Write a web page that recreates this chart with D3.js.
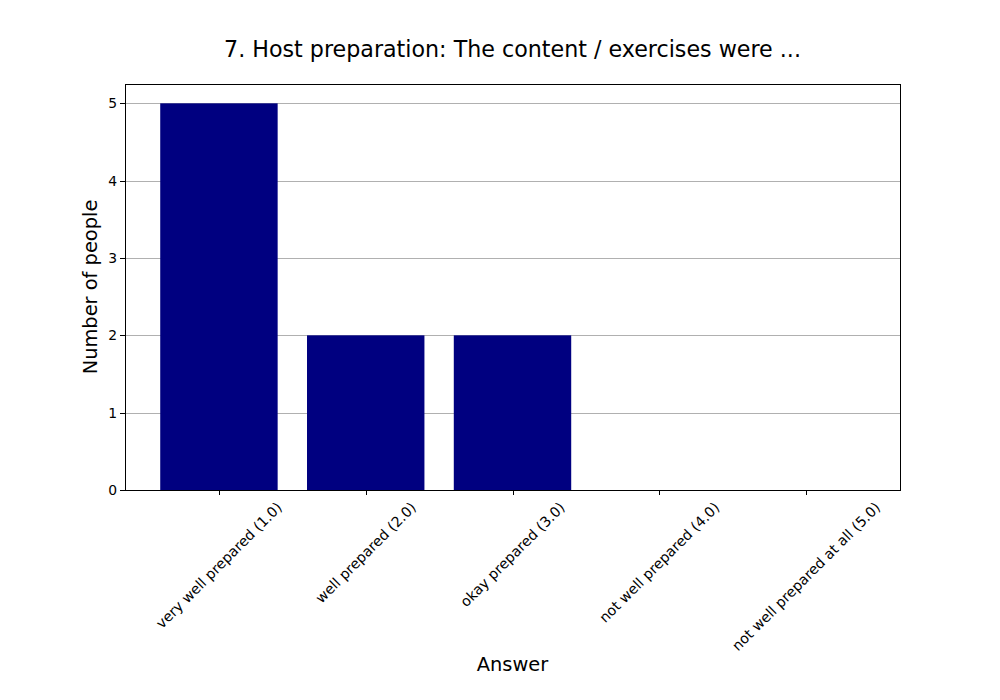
<!DOCTYPE html>
<html><head><meta charset="utf-8">
<script src="https://cdn.jsdelivr.net/npm/d3@7"></script>
<style>body{margin:0;background:#fff}svg{display:block}text{font-family:"DejaVu Sans",sans-serif;fill:#000}</style>
</head><body><svg id="c" width="1000" height="700"></svg>
<script>
const categories = ["very well prepared (1.0)","well prepared (2.0)","okay prepared (3.0)","not well prepared (4.0)","not well prepared at all (5.0)"];
const values = [5,2,2,0,0];
const yTicks = [0,1,2,3,4,5];
const title = "7. Host preparation: The content / exercises were ...";
const xLabel = "Answer", yLabel = "Number of people";

const svg = d3.select("#c");
const L=125,R=900,T=84,B=490;
const x = d3.scaleLinear().domain([-0.64,4.64]).range([L,R]);
const y = d3.scaleLinear().domain([0,5.25]).range([B,T]);

// grid
svg.append("g").selectAll("line").data(yTicks).join("line")
  .attr("x1",L).attr("x2",R).attr("y1",d=>Math.round(y(d))+0.5).attr("y2",d=>Math.round(y(d))+0.5)
  .attr("stroke","#b0b0b0").attr("stroke-width",1);

// bars
svg.append("g").selectAll("rect").data(values).join("rect")
  .attr("x",(d,i)=>x(i-0.4)).attr("width",(d,i)=>x(i+0.4)-x(i-0.4))
  .attr("y",d=>y(d)).attr("height",d=>y(0)-y(d)).attr("fill","#000080");

// frame
svg.append("rect").attr("x",L+0.5).attr("y",T+0.5).attr("width",R-L).attr("height",B-T)
  .attr("fill","none").attr("stroke","#000").attr("stroke-width",1).attr("shape-rendering","crispEdges");

// y ticks
const gy = svg.append("g");
yTicks.forEach(t=>{
  const yy = Math.round(y(t))+0.5;
  gy.append("line").attr("x1",L-5).attr("x2",L).attr("y1",yy).attr("y2",yy).attr("stroke","#000").attr("stroke-width",1);
  gy.append("text").attr("x",L-8).attr("y",y(t)).attr("dy","0.36em").attr("text-anchor","end").attr("font-size",13.9).text(t);
});

// x ticks
const gx = svg.append("g");
categories.forEach((c,i)=>{
  const cx = Math.round(x(i))+0.5;
  gx.append("line").attr("x1",cx).attr("x2",cx).attr("y1",B).attr("y2",B+5).attr("stroke","#000").attr("stroke-width",1);
  const t = gx.append("text").attr("font-size",14.2).attr("text-anchor","middle").attr("dominant-baseline","central").text(c);
  const w = t.node().getComputedTextLength();
  const h = 14.2*1.17;
  const cy = 499 + (w+h)*Math.SQRT1_2/2;
  t.attr("transform",`translate(${x(i)},${cy}) rotate(-45)`);
});

svg.append("text").attr("x",(L+R)/2).attr("y",57).attr("text-anchor","middle").attr("font-size",22.2).text(title);
svg.append("text").attr("x",(L+R)/2).attr("y",671).attr("text-anchor","middle").attr("font-size",19.4).text(xLabel);
svg.append("text").attr("transform",`translate(97,${(T+B)/2}) rotate(-90)`).attr("text-anchor","middle").attr("font-size",19.4).text(yLabel);
</script></body></html>
